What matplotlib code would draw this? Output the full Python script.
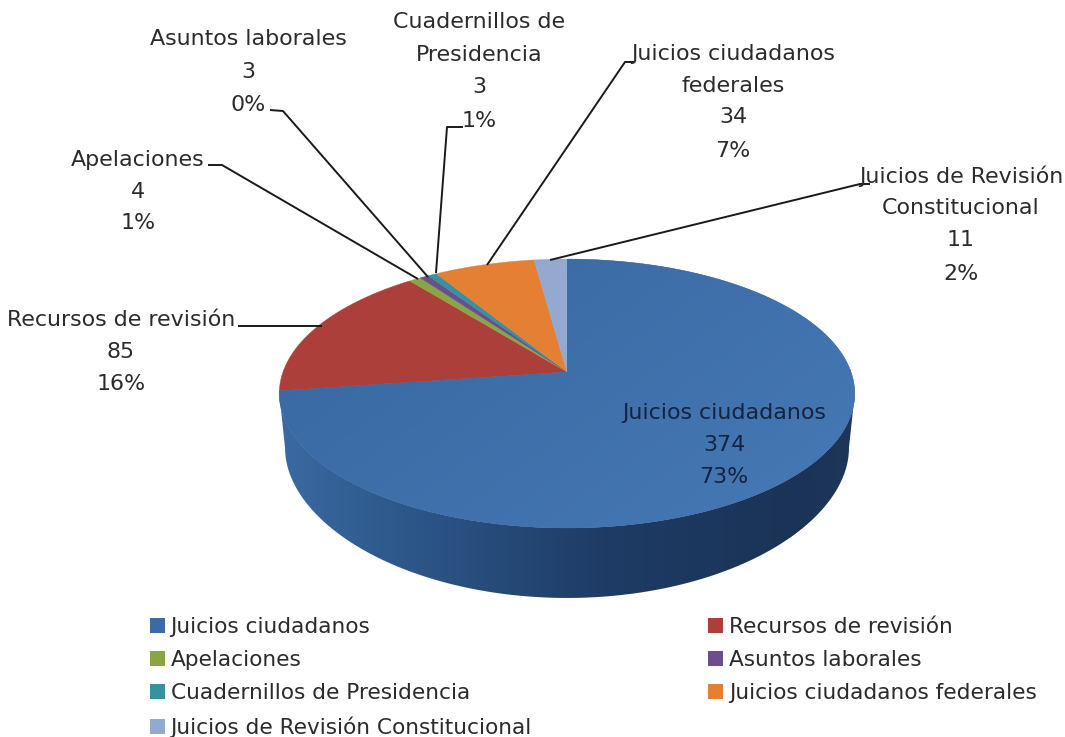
import numpy as np
import matplotlib
matplotlib.use("Agg")
import matplotlib.pyplot as plt
from matplotlib.colors import LinearSegmentedColormap
from matplotlib.patches import Patch, Polygon

categories = ["Juicios ciudadanos", "Recursos de revisión", "Apelaciones", "Asuntos laborales",
              "Cuadernillos de Presidencia", "Juicios ciudadanos federales",
              "Juicios de Revisión Constitucional"]
values = [374, 85, 4, 3, 3, 34, 11]
percents = ["73%", "16%", "1%", "0%", "1%", "7%", "2%"]
colors = ["#3b6ba6", "#ad3f3b", "#8aa644", "#6a4e90", "#37919f", "#e57f33", "#93a9cf"]

W, H = 1065, 737
plt.rcParams["font.family"] = ["DejaVu Sans"]
fig = plt.figure(figsize=(W / 100, H / 100), dpi=100)
ax = fig.add_axes([0, 0, 1, 1], facecolor="none")

# pie with a bit of perspective, the back is squeezed
cx, cy = 567, 372
k, a, b = 0.16, 284, 131


def project(theta):
    # clockwise degrees from 12 o'clock to pixels
    X, Y = np.sin(np.radians(theta)), np.cos(np.radians(theta))
    w = 1 + k * Y
    return cx + a * X / w, cy - b * Y / w


def side_offset(theta):
    return 54 + 16 * np.cos(np.radians(theta)) ** 2


# side wall is one outline with a horizontal gradient
vis = np.degrees(np.arccos(-k))
ang = np.linspace(vis, 360 - vis, 400)
xs, ys = project(ang)
base_x = cx + (xs - cx) * 0.98
outline = np.r_[np.c_[xs, ys], np.c_[base_x, ys + side_offset(ang)][::-1]]
side = Polygon(outline, closed=True, facecolor="none", edgecolor="none")
ax.add_patch(side)
side_cmap = LinearSegmentedColormap.from_list(
    "side", [(0, "#3b6aa2"), (0.12, "#325f94"), (0.35, "#274d7c"), (0.56, "#1e3c66"),
             (0.9, "#1b3356"), (1, "#1e3659")])
side_im = ax.imshow(np.linspace(0, 1, 300)[None, :], extent=(279, 855, 600, 360), cmap=side_cmap,
                    aspect="auto", zorder=1)
side_im.set_clip_path(side)

# top surface
edges = np.concatenate([[0], np.cumsum(values)]) / sum(values) * 360
slices = []
for i, col in enumerate(colors):
    t = np.linspace(edges[i], edges[i + 1], max(int(values[i]), 3) * 2)
    px, py = project(t)
    pts = np.r_[[[cx, cy]], np.c_[px, py]]
    p = Polygon(pts, closed=True, facecolor=col, edgecolor=col, linewidth=0.3, zorder=2)
    ax.add_patch(p)
    slices.append(p)

# big slice gets lighter towards the lower right
grad = np.linspace(0, 1, 200)[None, :] * 0.6 + np.linspace(0, 1, 200)[:, None] * 0.4
top_cmap = LinearSegmentedColormap.from_list("top", ["#38679f", "#4679b6"])
im = ax.imshow(grad, extent=(279, 855, 530, 255), cmap=top_cmap, zorder=3, aspect="auto")
im.set_clip_path(slices[0])

ax.set_xlim(0, W)
ax.set_ylim(H, 0)
ax.axis("off")

label_lines = [
    (["Juicios ciudadanos"], 724, [413, 445, 477]),
    (["Recursos de revisión"], 121, [320, 352, 384]),
    (["Apelaciones"], 138, [160, 192, 223]),
    (["Asuntos laborales"], 248, [39, 72, 105]),
    (["Cuadernillos de", "Presidencia"], 479, [22, 55, 87, 121]),
    (["Juicios ciudadanos", "federales"], 733, [54, 86, 117, 151]),
    (["Juicios de Revisión", "Constitucional"], 961, [176, 208, 240, 274]),
]
for i, (names, lx, yy) in enumerate(label_lines):
    lines = names + [str(values[i]), percents[i]]
    col = "#14233f" if i == 0 else "#2b2b2b"
    for txt, y in zip(lines, yy):
        ax.text(lx, y, txt, ha="center", va="center", fontsize=15.9, color=col, zorder=6)

leaders = [
    ([238, 322], [326, 326]),
    ([208, 222, 418], [165, 165, 279]),
    ([270, 283, 428], [110, 111, 277]),
    ([463, 447, 436], [127, 127, 273]),
    ([635, 625, 487], [62, 62, 265]),
    ([870, 860, 550], [184, 184, 260]),
]
for lxs, lys in leaders:
    ax.plot(lxs, lys, color="#1a1a1a", lw=1.4, solid_capstyle="butt", zorder=5)

order = [0, 2, 4, 6, 1, 3, 5]
handles = [Patch(facecolor=colors[i], edgecolor="none", label=categories[i]) for i in order]
ax.legend(handles=handles, ncols=2, loc="upper left", bbox_to_anchor=(150 / W, 1 - 617 / H),
          bbox_transform=fig.transFigure, frameon=False, fontsize=15.6, handlelength=0.68,
          handleheight=0.68, handletextpad=0.27, labelspacing=0.61, columnspacing=8.15,
          borderpad=0, borderaxespad=0, labelcolor="#2b2b2b")

fig.savefig("out.png", dpi=100)
